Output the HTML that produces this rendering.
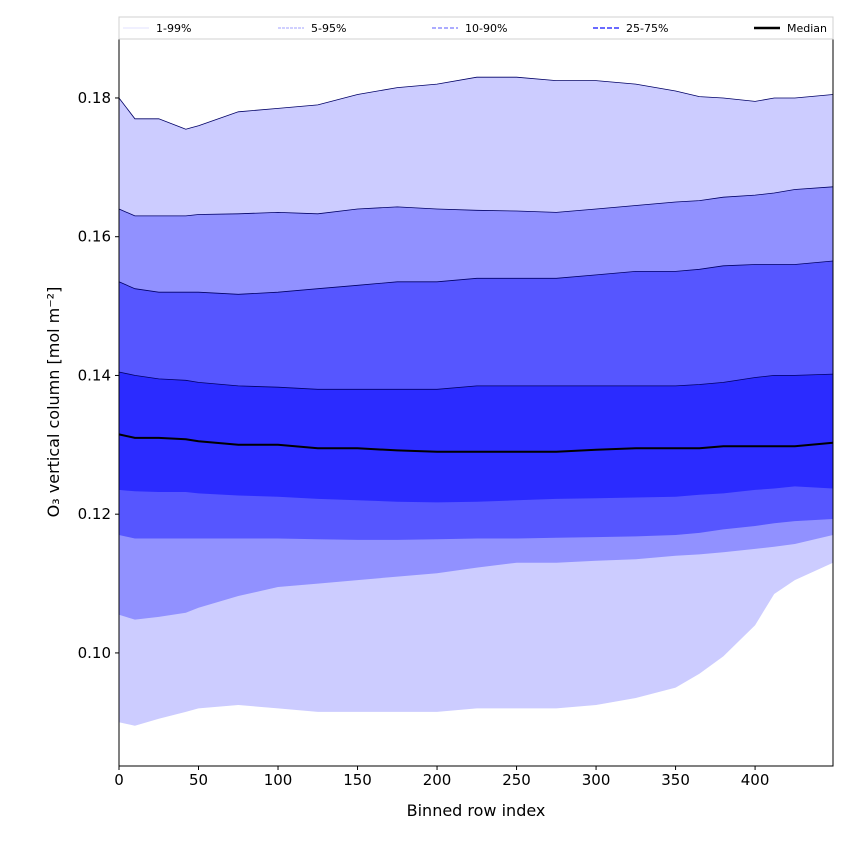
<!DOCTYPE html>
<html><head><meta charset="utf-8"><style>
body{margin:0;background:#fff;font-family:"Liberation Sans","DejaVu Sans",sans-serif;}
svg text{font-family:"DejaVu Sans","Liberation Sans",sans-serif;}
</style></head><body>
<svg id="chart" width="850" height="850" viewBox="0 0 850 850" xmlns="http://www.w3.org/2000/svg">
<rect width="850" height="850" fill="#fff"/>
<g id="bands"></g>
<g id="axes"></g>
</svg>
<script>
const rowIndex = [0,10,25,42,50,75,100,125,150,175,200,225,250,275,300,325,350,365,380,400,412,425,449];
const p99 = [0.180,0.177,0.177,0.1755,0.176,0.178,0.1785,0.179,0.1805,0.1815,0.182,0.183,0.183,0.1825,0.1825,0.182,0.181,0.1802,0.180,0.1795,0.180,0.180,0.1805];
const p95 = [0.164,0.163,0.163,0.163,0.1632,0.1633,0.1635,0.1633,0.164,0.1643,0.164,0.1638,0.1637,0.1635,0.164,0.1645,0.165,0.1652,0.1657,0.166,0.1663,0.1668,0.1672];
const p90 = [0.1535,0.1525,0.152,0.152,0.152,0.1517,0.152,0.1525,0.153,0.1535,0.1535,0.154,0.154,0.154,0.1545,0.155,0.155,0.1553,0.1558,0.156,0.156,0.156,0.1565];
const p75 = [0.1405,0.140,0.1395,0.1393,0.139,0.1385,0.1383,0.138,0.138,0.138,0.138,0.1385,0.1385,0.1385,0.1385,0.1385,0.1385,0.1387,0.139,0.1397,0.140,0.140,0.1402];
const median = [0.1315,0.131,0.131,0.1308,0.1305,0.130,0.130,0.1295,0.1295,0.1292,0.129,0.129,0.129,0.129,0.1293,0.1295,0.1295,0.1295,0.1298,0.1298,0.1298,0.1298,0.1303];
const p25 = [0.1235,0.1233,0.1232,0.1232,0.123,0.1227,0.1225,0.1222,0.122,0.1218,0.1217,0.1218,0.122,0.1222,0.1223,0.1224,0.1225,0.1228,0.123,0.1235,0.1237,0.124,0.1237];
const p10 = [0.117,0.1165,0.1165,0.1165,0.1165,0.1165,0.1165,0.1164,0.1163,0.1163,0.1164,0.1165,0.1165,0.1166,0.1167,0.1168,0.117,0.1173,0.1178,0.1183,0.1187,0.119,0.1193];
const p5 = [0.1055,0.1048,0.1052,0.1058,0.1065,0.1082,0.1095,0.110,0.1105,0.111,0.1115,0.1123,0.113,0.113,0.1133,0.1135,0.114,0.1142,0.1145,0.115,0.1153,0.1157,0.117];
const p1 = [0.090,0.0895,0.0905,0.0915,0.092,0.0925,0.092,0.0915,0.0915,0.0915,0.0915,0.092,0.092,0.092,0.0925,0.0935,0.095,0.097,0.0995,0.104,0.1085,0.1105,0.113];
const xTicks = [0,50,100,150,200,250,300,350,400];
const yTicks = [0.10,0.12,0.14,0.16,0.18];
const legendLabels = ["1-99%","5-95%","10-90%","25-75%","Median"];

const L=119,R=833,T=39,B=766;
const xMin=0,xMax=449,yMin=0.0837,yMax=0.1885;
const sx=v=>L+(v-xMin)/(xMax-xMin)*(R-L);
const sy=v=>B-(v-yMin)/(yMax-yMin)*(B-T);
const NS="http://www.w3.org/2000/svg";
function mk(tag,attrs,parent){const e=document.createElementNS(NS,tag);for(const k in attrs)e.setAttribute(k,attrs[k]);parent.appendChild(e);return e;}
const bands=document.getElementById('bands'), axes=document.getElementById('axes');
function line(arr){return arr.map((v,i)=>(i?'L':'M')+sx(rowIndex[i]).toFixed(1)+','+sy(v).toFixed(1)).join('');}
function area(hi,lo){let d=line(hi);for(let i=lo.length-1;i>=0;i--)d+='L'+sx(rowIndex[i]).toFixed(1)+','+sy(lo[i]).toFixed(1);return d+'Z';}
const bandDefs=[[p99,p1,'#ccccff','band-1-99'],[p95,p5,'#9191ff','band-5-95'],[p90,p10,'#5656ff','band-10-90'],[p75,p25,'#2b2bff','band-25-75']];
bandDefs.forEach(b=>{
  const p=mk('path',{d:area(b[0],b[1]),fill:b[2]},bands);
  
  
  const e=mk('path',{d:line(b[0]),fill:'none',stroke:'#000066','stroke-width':0.8},bands);
  
  
});
const med=mk('path',{d:line(median),fill:'none',stroke:'#000','stroke-width':2},bands);



const frame=mk('rect',{x:L,y:T,width:R-L,height:B-T,fill:'none',stroke:'#000','stroke-width':1},axes);


xTicks.forEach(t=>{
  const x=sx(t);
  mk('line',{x1:x,x2:x,y1:B,y2:B+4,stroke:'#000'},axes);
  const tx=mk('text',{x:x,y:B+19,'text-anchor':'middle','font-size':15},axes);
  tx.textContent=t;
  
  
});
yTicks.forEach(t=>{
  const y=sy(t);
  mk('line',{x1:L-4,x2:L,y1:y,y2:y,stroke:'#000'},axes);
  const tx=mk('text',{x:L-8,y:y+5,'text-anchor':'end','font-size':15},axes);
  tx.textContent=t.toFixed(2);
  
  
});
const xl=mk('text',{x:(L+R)/2,y:816,'text-anchor':'middle','font-size':16},axes);
xl.textContent='Binned row index';


const yl=mk('text',{x:0,y:0,'text-anchor':'middle','font-size':16,transform:'translate(59,402) rotate(-90)'},axes);
yl.textContent='O₃ vertical column [mol m⁻²]';



const leg=mk('g',{},axes);


mk('rect',{x:119,y:17,width:714,height:22,fill:'#fff',stroke:'#d0d0d0'},leg);
const legX=[123,278,432,593,754];
const legStyles=[['#e0e0ff',1,'none'],['#a0a0ff',1,'3,1'],['#9090ff',1.5,'4,2'],['#6a6aff',2,'5,2'],['#000',2.5,'none']];
legendLabels.forEach((lab,i)=>{
  const g=mk('g',{},leg);
  
  
  mk('line',{x1:legX[i],x2:legX[i]+26,y1:28,y2:28,stroke:legStyles[i][0],'stroke-width':legStyles[i][1],'stroke-dasharray':legStyles[i][2]},g);
  const t=mk('text',{x:legX[i]+33,y:32,'font-size':11},g);
  t.textContent=lab;
});
</script>
</body></html>
